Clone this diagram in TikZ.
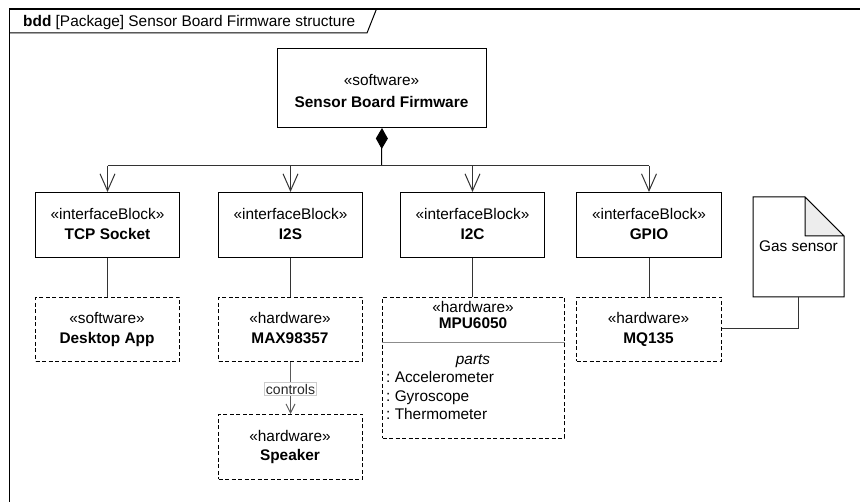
\documentclass[tikz,border=0pt]{standalone}
\usepackage{fontspec}
\setmainfont{Liberation Sans}
\usetikzlibrary{arrows.meta}
\newcommand{\umlsize}{\fontsize{15.4}{18}\selectfont}
\frenchspacing
\begin{document}
\begin{tikzpicture}[x=1pt,y=-1pt,
  every node/.style={font=\umlsize},
  box/.style={draw=black, line width=1pt, fill=white, inner sep=0pt, anchor=north west},
  dbox/.style={box, dash pattern=on 4pt off 2.5pt},
  txt/.style={anchor=base, inner sep=0pt},
  btxt/.style={txt, font=\umlsize\bfseries},
  ltxt/.style={anchor=base west, inner sep=0pt},
  conn/.style={draw=black!80, line width=1pt},
  part/.style={conn, -{Straight Barb[length=17pt,width=15pt,line width=1pt]}},
  compose/.style={draw=black, line width=1pt, -{Diamond[length=21pt,width=12pt,fill=black]}},
  ctrl/.style={draw=black!65, line width=1pt, -{Straight Barb[length=9pt,width=9pt,line width=1pt]}},
  tag/.style={draw=black!20, fill=white, inner sep=1.2pt, font=\fontsize{14}{16}\selectfont, text=black!85},
  frameline/.style={draw=black, line width=1.2pt}
]
\useasboundingbox (0,0) rectangle (860,502);

% diagram frame and its name tab
\draw[frameline] (860,9) -- (9.5,9) -- (9.5,502);
\draw[line width=1pt] (9.5,33) -- (367,33) -- (376.5,9);
\node[ltxt] (title) at (23,27) {\textbf{bdd} [Package] Sensor Board Firmware structure};

% top level block
\node[box, minimum width=209pt, minimum height=79pt] (fw) at (277,48) {};
\node[txt] (fwst) at (381.5,86) {«software»};
\node[btxt] (fwname) at (381.5,107.5) {Sensor Board Firmware};

% interface blocks
\node[box, minimum width=144pt, minimum height=65pt] (tcp) at (35,192) {};
\node[box, minimum width=144pt, minimum height=65pt] (i2s) at (218,192) {};
\node[box, minimum width=144pt, minimum height=65pt] (i2c) at (400,192) {};
\node[box, minimum width=145pt, minimum height=65pt] (gpio) at (576,192) {};
\foreach \n/\t in {tcp/TCP Socket, i2s/I2S, i2c/I2C, gpio/GPIO}{
  \node[txt] (\n st) at ([yshift=-27.5pt]\n.north) {«interfaceBlock»};
  \node[btxt] (\n name) at ([yshift=-47.5pt]\n.north) {\t};
}

% hardware / software parts
\node[dbox, minimum width=144pt, minimum height=64pt] (desk) at (35,297) {};
\node[txt] (deskst) at (107,324) {«software»};
\node[btxt] (deskname) at (107,343.5) {Desktop App};

\node[dbox, minimum width=144pt, minimum height=64pt] (max) at (218,297) {};
\node[txt] (maxst) at (290,324) {«hardware»};
\node[btxt] (maxname) at (290,343.5) {MAX98357};

\node[dbox, minimum width=144pt, minimum height=65pt] (spk) at (218,414) {};
\node[txt] (spkst) at (290,441.5) {«hardware»};
\node[btxt] (spkname) at (290,461) {Speaker};

\node[dbox, minimum width=145pt, minimum height=64pt] (mq) at (576,297) {};
\node[txt] (mqst) at (648.5,324) {«hardware»};
\node[btxt] (mqname) at (648.5,343.5) {MQ135};

\node[dbox, minimum width=182pt, minimum height=141pt] (mpu) at (382,297) {};
\node[txt] (mpust) at (473,312.5) {«hardware»};
\node[btxt] (mpuname) at (473,329) {MPU6050};
\draw[draw=black!45, line width=1pt] (mpu.west |- 0,342.5) -- (mpu.east |- 0,342.5);
\node[txt, font=\umlsize\itshape] (parts) at (473,364.5) {parts};
\node[ltxt] (acc) at (386,383) {: Accelerometer};
\node[ltxt] (gyr) at (386,401.5) {: Gyroscope};
\node[ltxt] (thm) at (386,420) {: Thermometer};

% note attached to MQ135
\draw[fill=white, line width=1pt] (753,197) -- (805,197) -- (844,236) -- (844,297) -- (753,297) -- cycle;
\draw[fill=black!7, line width=1pt, line join=round] (805,197) -- (805,236) -- (844,236) -- cycle;
\node[txt] (note) at (798.5,252) {Gas sensor};
\coordinate (notefoot) at (798,297);
\draw[conn] (notefoot) |- (mq.east |- 0,328.5);

% composition from the firmware block
\coordinate (hub) at (381.5,166);
\draw[compose] (hub) -- (fw.south);
\draw[conn] (tcp.north |- hub) -- (gpio.north |- hub);
\foreach \n in {tcp,i2s,i2c,gpio}{
  \draw[part] (\n.north |- hub) -- (\n.north);
}

% interface realisations
\draw[conn] (tcp.south) -- (desk.north);
\draw[conn] (i2s.south) -- (max.north);
\draw[conn] (i2c.south) -- (i2c.south |- mpu.north);
\draw[conn] (gpio.south) -- (gpio.south |- mq.north);

% amplifier drives the speaker
\draw[ctrl] (max.south) -- (spk.north) node[tag, pos=0.52] (ctl) {controls};
\end{tikzpicture}
\end{document}
